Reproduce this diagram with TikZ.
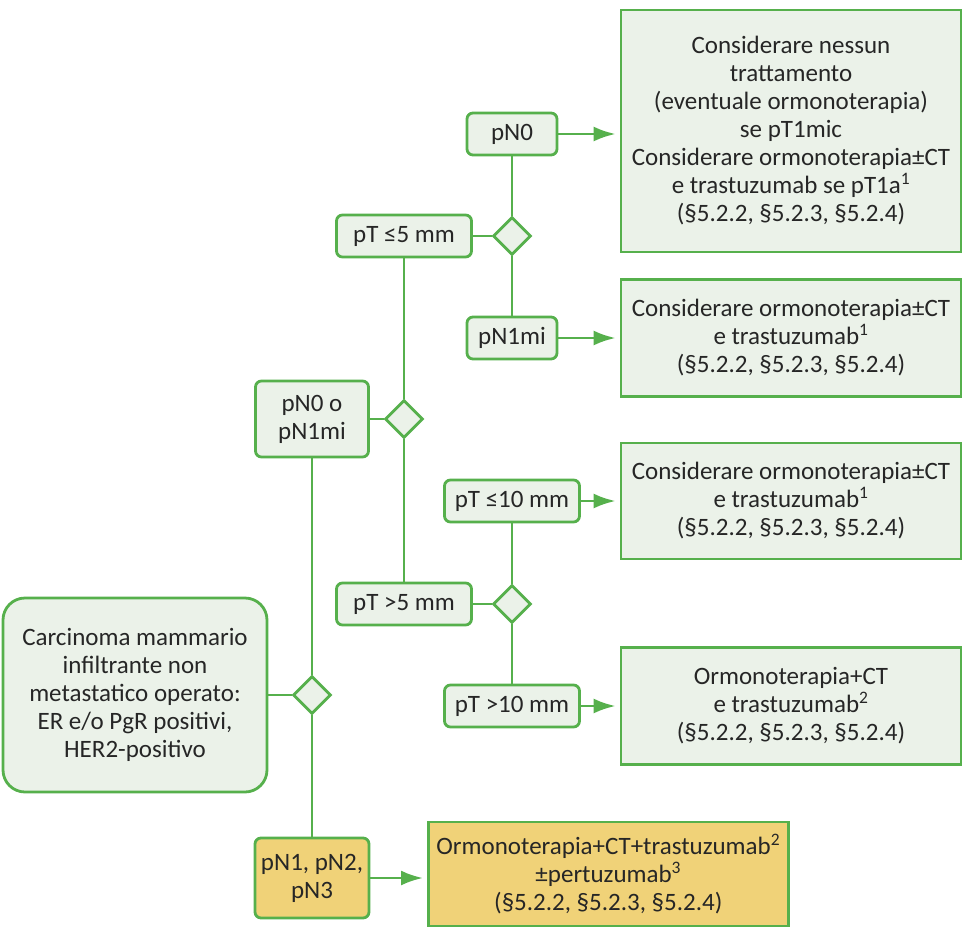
\documentclass[tikz,border=0pt]{standalone}
\usepackage{fontspec}
\setmainfont{Carlito}
\usetikzlibrary{arrows.meta, shapes.geometric}

\definecolor{flowgreen}{RGB}{86,176,76}
\definecolor{boxfill}{RGB}{235,242,233}
\definecolor{pnyellow}{RGB}{240,210,120}

\begin{document}
\begin{tikzpicture}[>={Latex[length=22pt,width=15pt]}, x=1pt, y=-1pt, line width=2.8pt,
  every node/.style={font=\fontsize{25}{28}\selectfont, text=black!85},
  rbox/.style={draw=flowgreen, fill=boxfill, align=center, minimum width=340pt, inner sep=4pt},
  tbox/.style={draw=flowgreen, fill=boxfill, rounded corners=6pt, align=center, inner xsep=6pt, inner ysep=4pt},
  cond/.style={draw=flowgreen, fill=boxfill, diamond, minimum width=38pt, minimum height=38pt, inner sep=0pt},
  link/.style={draw=flowgreen},
  go/.style={draw=flowgreen, ->, shorten >=4pt}]

\useasboundingbox (0,0) rectangle (964,929);

% results on the right
\node[rbox, minimum height=242pt] (r1) at (791,131) {Considerare nessun\\trattamento\\(eventuale ormonoterapia)\\se pT1mic\\Considerare ormonoterapia±CT\\e trastuzumab se pT1a\textsuperscript{1}\\(§5.2.2, §5.2.3, §5.2.4)};
\node[rbox, minimum height=117pt] (r2) at (791,338) {Considerare ormonoterapia±CT\\e trastuzumab\textsuperscript{1}\\(§5.2.2, §5.2.3, §5.2.4)};
\node[rbox, minimum height=116pt] (r3) at (791,501) {Considerare ormonoterapia±CT\\e trastuzumab\textsuperscript{1}\\(§5.2.2, §5.2.3, §5.2.4)};
\node[rbox, minimum height=117pt] (r4) at (791,706) {Ormonoterapia+CT\\e trastuzumab\textsuperscript{2}\\(§5.2.2, §5.2.3, §5.2.4)};

% tumour size branches
\node[tbox, minimum width=90pt, minimum height=42pt] (pn0) at (512,134) {pN0};
\node[tbox, minimum width=90pt, minimum height=42pt] (pn1mi) at (512,338) {pN1mi};
\node[tbox, minimum width=135pt, minimum height=42pt] (ptle5) at (404,236) {pT ≤5 mm};
\node[cond] (d2) at (512,236) {};
\node[tbox, minimum width=135pt, minimum height=42pt] (ptle10) at (512,501) {pT ≤10 mm};
\node[tbox, minimum width=135pt, minimum height=42pt] (ptgt10) at (512,706) {pT >10 mm};
\node[tbox, minimum width=135pt, minimum height=42pt] (ptgt5) at (404,604) {pT >5 mm};
\node[cond] (d3) at (512,604) {};

% nodal status
\node[tbox, minimum width=113pt, minimum height=76pt] (pn01) at (312,419) {pN0 o\\pN1mi};
\node[cond] (d1) at (404,419) {};
\node[tbox, rounded corners=22pt, minimum width=264pt, minimum height=194pt] (main) at (135,695) {Carcinoma mammario\\infiltrante non\\metastatico operato:\\ER e/o PgR positivi,\\HER2-positivo};
\node[cond] (d0) at (312,695) {};
\node[tbox, fill=pnyellow, minimum width=113pt, minimum height=80pt] (pn123) at (312,878) {pN1, pN2,\\pN3};
\node[rbox, fill=pnyellow, anchor=west, minimum width=0pt, inner xsep=8pt, minimum height=104pt] (r5) at (427,874) {Ormonoterapia+CT+trastuzumab\textsuperscript{2}\\±pertuzumab\textsuperscript{3}\\(§5.2.2, §5.2.3, §5.2.4)};

\draw[link] (main) -- (d0);
\draw[link] (d0) -- (pn01);
\draw[link] (d0) -- (pn123);
\draw[link] (pn01) -- (d1);
\draw[link] (d1) -- (ptle5);
\draw[link] (d1) -- (ptgt5);
\draw[link] (ptle5) -- (d2);
\draw[link] (d2) -- (pn0);
\draw[link] (d2) -- (pn1mi);
\draw[link] (ptgt5) -- (d3);
\draw[link] (d3) -- (ptle10);
\draw[link] (d3) -- (ptgt10);

\draw[go] (pn0) -- (pn0 -| r1.west);
\draw[go] (pn1mi) -- (pn1mi -| r2.west);
\draw[go] (ptle10) -- (ptle10 -| r3.west);
\draw[go] (ptgt10) -- (ptgt10 -| r4.west);
\draw[go] (pn123) -- (pn123 -| r5.west);

\end{tikzpicture}
\end{document}
